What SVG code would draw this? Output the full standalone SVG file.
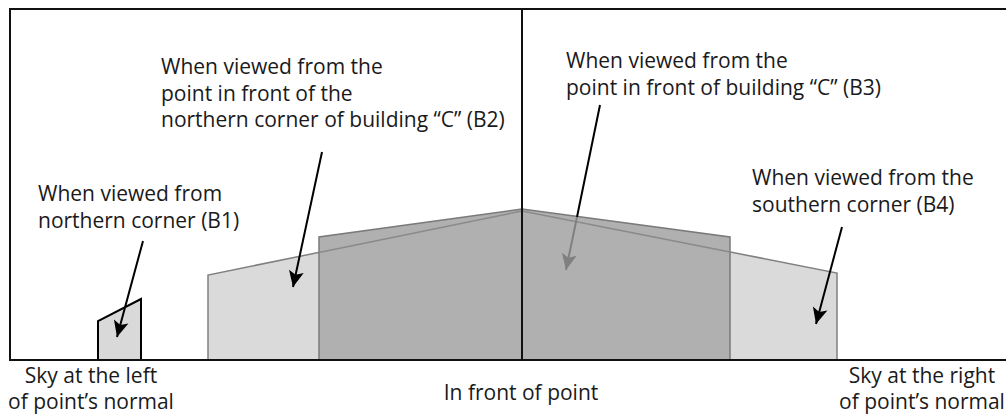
<svg xmlns="http://www.w3.org/2000/svg" width="1006" height="419" viewBox="0 0 1006 419">
<style>
text{font-family:"Open Sans","Liberation Sans",sans-serif;font-size:21px;fill:#1a1a1a}
.frame{stroke:#111;stroke-width:2;fill:none}
.light{fill:#dadada;stroke:#808080;stroke-width:1.5}
.dark{fill:#b0b0b0;stroke:#7a7a7a;stroke-width:1.5}
.arr{stroke:#000;stroke-width:2;fill:none;marker-end:url(#ah)}
.arrg{stroke:#808080;stroke-width:2;fill:none;marker-end:url(#ahg)}
.mid{text-anchor:middle}
</style>
<defs>
<marker id="ah" markerUnits="userSpaceOnUse" markerWidth="20" markerHeight="20" viewBox="-18 -10 20 20" refX="0" refY="0" orient="auto">
<path d="M0,0 L-16,-7.5 L-12.5,0 L-16,7.5 Z" fill="#000"/>
</marker>
<marker id="ahg" markerUnits="userSpaceOnUse" markerWidth="20" markerHeight="20" viewBox="-18 -10 20 20" refX="0" refY="0" orient="auto">
<path d="M0,0 L-16,-7.5 L-12.5,0 L-16,7.5 Z" fill="#808080"/>
</marker>
</defs>
<rect width="1006" height="419" fill="#fff"/>
<g id="views">
<polygon id="b2b4" class="light" points="208,360 208,275 522,211 837,273 837,360"/>
<polygon id="b3" class="dark" points="319,360 319,237 522,209 730,237 730,360"/>
<polyline points="319,252.4 522,211 730,252" fill="none" stroke="#8a8a8a" stroke-width="1.5"/>
<polygon id="b1" points="98,360 98,321 141,299 141,360" fill="#d9d9d9" stroke="#000" stroke-width="2"/>
</g>
<g id="frame">
<polyline class="frame" points="1006,9 10,9 10,360 1006,360"/>
<line x1="522" y1="9" x2="522" y2="360" stroke="#111" stroke-width="2"/>
</g>
<g id="connectors">
<line class="arr" x1="143" y1="241" x2="117" y2="337"/>
<line class="arr" x1="322" y1="152" x2="293" y2="287"/>
<line x1="600" y1="105" x2="577" y2="217" stroke="#000" stroke-width="2"/>
<line class="arrg" x1="577" y1="217" x2="566" y2="270"/>
<line class="arr" x1="842" y1="227" x2="816" y2="324"/>
</g>
<g id="label-b1">
<text x="38" y="201">When viewed from</text>
<text x="38" y="228">northern corner (B1)</text>
</g>
<g id="label-b2">
<text x="161" y="74">When viewed from the</text>
<text x="161" y="100.5">point in front of the</text>
<text x="161" y="127">northern corner of building “C” (B2)</text>
</g>
<g id="label-b3">
<text x="566" y="68">When viewed from the</text>
<text x="566" y="94.5">point in front of building “C” (B3)</text>
</g>
<g id="label-b4">
<text x="752" y="185">When viewed from the</text>
<text x="752" y="212">southern corner (B4)</text>
</g>
<g id="label-left">
<text class="mid" x="91" y="383">Sky at the left</text>
<text class="mid" x="91" y="409">of point’s normal</text>
</g>
<g id="label-center">
<text class="mid" x="521" y="400">In front of point</text>
</g>
<g id="label-right">
<text class="mid" x="922" y="383">Sky at the right</text>
<text class="mid" x="922" y="409">of point’s normal</text>
</g>
</svg>
